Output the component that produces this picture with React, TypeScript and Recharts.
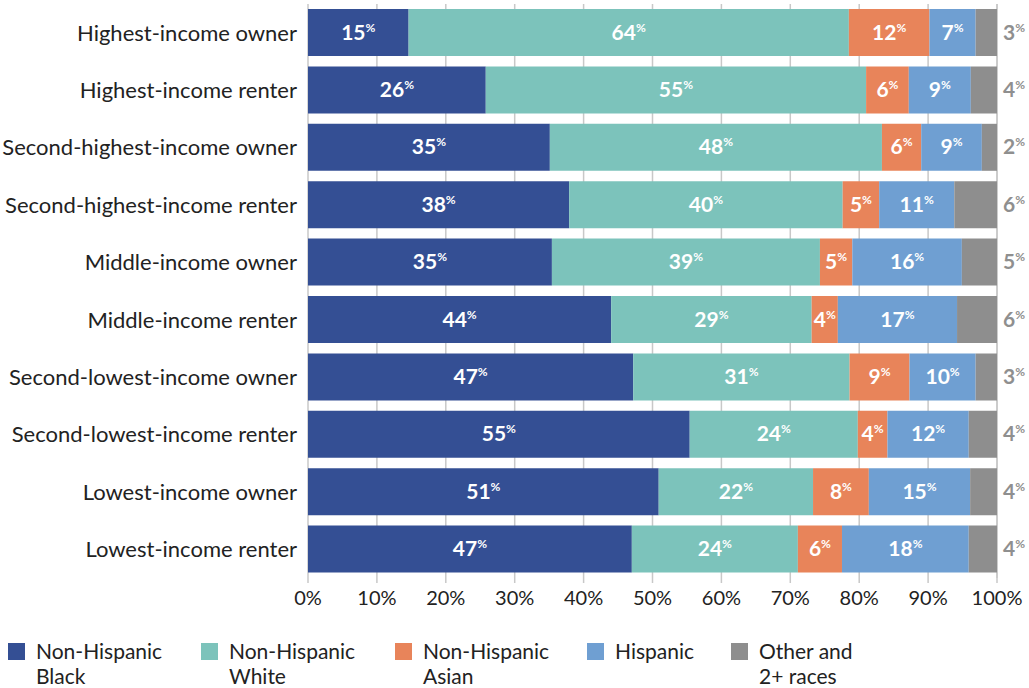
import React from "react";
import { BarChart, Bar, XAxis, YAxis, CartesianGrid, LabelList } from "recharts";

const categories = [
  "Highest-income owner",
  "Highest-income renter",
  "Second-highest-income owner",
  "Second-highest-income renter",
  "Middle-income owner",
  "Middle-income renter",
  "Second-lowest-income owner",
  "Second-lowest-income renter",
  "Lowest-income owner",
  "Lowest-income renter",
];

const black = [14.6, 25.8, 35.1, 37.9, 35.4, 44.0, 47.2, 55.4, 50.9, 47.0];
const white = [63.9, 55.2, 48.2, 39.7, 38.9, 29.1, 31.4, 24.4, 22.4, 24.1];
const asian = [11.7, 6.2, 5.7, 5.3, 4.7, 3.8, 8.7, 4.3, 8.1, 6.4];
const hispanic = [6.7, 9.0, 8.8, 10.9, 15.9, 17.3, 9.6, 11.8, 14.7, 18.4];
const other = [3.1, 3.8, 2.2, 6.2, 5.1, 5.8, 3.1, 4.1, 3.9, 4.1];

const xTicks = [0, 10, 20, 30, 40, 50, 60, 70, 80, 90, 100];

const series = [
  { key: "black", name: "Non-Hispanic\nBlack", color: "#344f94" },
  { key: "white", name: "Non-Hispanic\nWhite", color: "#7cc3bb" },
  { key: "asian", name: "Non-Hispanic\nAsian", color: "#e8845a" },
  { key: "hispanic", name: "Hispanic", color: "#6f9fd2" },
  { key: "other", name: "Other and\n2+ races", color: "#8e8e8e" },
];

const data = categories.map((name, i) => ({
  name,
  black: black[i],
  white: white[i],
  asian: asian[i],
  hispanic: hispanic[i],
  other: other[i],
}));

const FONT = "Lato, 'Open Sans', sans-serif";

const insideLabel = (props: any) => {
  const { x, y, width, height, value } = props;
  return (
    <text
      x={x + width / 2}
      y={y + height / 2 + 7}
      textAnchor="middle"
      fill="#ffffff"
      fontWeight={700}
      fontSize={21}
      fontFamily={FONT}
    >
      <tspan>{Math.round(value)}</tspan>
      <tspan fontSize={12} dy={-8}>%</tspan>
    </text>
  );
};

const outsideLabel = (props: any) => {
  const { x, y, width, height, value } = props;
  return (
    <text
      x={x + width + 6}
      y={y + height / 2 + 7}
      textAnchor="start"
      fill="#8f8f8f"
      fontWeight={700}
      fontSize={21}
      fontFamily={FONT}
    >
      <tspan>{Math.round(value)}</tspan>
      <tspan fontSize={12} dy={-8}>%</tspan>
    </text>
  );
};

const legendX = [8, 201, 395, 587, 731];

export default function App() {
  return (
    <div style={{ position: "absolute", left: 0, top: 0, width: 1029, height: 688, background: "#fff" }}>
      <BarChart
        width={1029}
        height={620}
        data={data}
        layout="vertical"
        margin={{ top: 4, right: 32, left: 0, bottom: 0 }}
        barSize={47}
      >
        <CartesianGrid vertical={true} horizontal={false} stroke="#c8c8c8" strokeWidth={1.5} />
        <XAxis
          type="number"
          domain={[0, 100]}
          ticks={xTicks}
          tickFormatter={(v) => `${v}%`}
          axisLine={false}
          tickLine={{ stroke: "#c8c8c8", strokeWidth: 1.5 }}
          tickSize={5}
          height={42}
          tick={{ fill: "#222", fontSize: 20, fontFamily: FONT }}
          tickMargin={8}
        />
        <YAxis
          type="category"
          dataKey="name"
          width={308}
          axisLine={false}
          tickLine={false}
          tickMargin={5}
          tick={{ fill: "#222", fontSize: 22, fontFamily: FONT }}
          interval={0}
        />
        {series.map((s) => (
          <Bar key={s.key} dataKey={s.key} stackId="a" fill={s.color} isAnimationActive={false}>
            <LabelList dataKey={s.key} content={s.key === "other" ? outsideLabel : insideLabel} />
          </Bar>
        ))}
      </BarChart>
      {series.map((s, i) => (
        <div
          key={s.key}
          style={{
            position: "absolute",
            left: legendX[i],
            top: 638,
            display: "flex",
            alignItems: "flex-start",
            fontFamily: FONT,
            fontSize: 21,
            color: "#222",
            lineHeight: "25px",
          }}
        >
          <div style={{ width: 17, height: 17, background: s.color, marginTop: 5, marginRight: 11 }} />
          <div style={{ whiteSpace: "pre" }}>{s.name}</div>
        </div>
      ))}
    </div>
  );
}
